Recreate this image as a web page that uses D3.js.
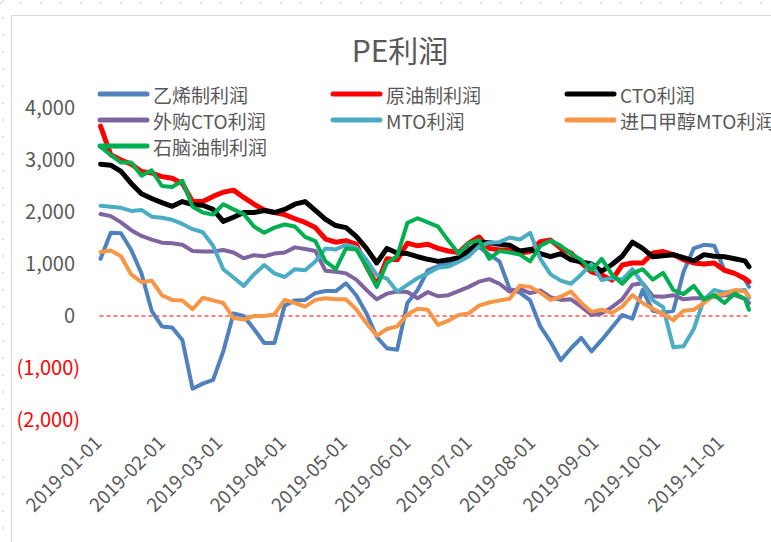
<!DOCTYPE html>
<html>
<head>
<meta charset="utf-8">
<script src="https://cdn.jsdelivr.net/npm/d3@7"></script>
<style>
  html, body { margin: 0; padding: 0; background: #fff; }
  text { font-family: "Noto Sans CJK SC", "Noto Sans", sans-serif; }
</style>
</head>
<body>
<div id="viz"></div>
<script>
// fechas (cada 5 días aprox.)
const dates = [
  '2019-01-02','2019-01-07','2019-01-12','2019-01-17','2019-01-22','2019-01-27','2019-02-01','2019-02-06','2019-02-11','2019-02-16',
  '2019-02-21','2019-02-26','2019-03-03','2019-03-08','2019-03-13','2019-03-18','2019-03-23','2019-03-28','2019-04-02','2019-04-07',
  '2019-04-12','2019-04-17','2019-04-22','2019-04-27','2019-05-02','2019-05-07','2019-05-12','2019-05-17','2019-05-22','2019-05-27',
  '2019-06-01','2019-06-06','2019-06-11','2019-06-16','2019-06-21','2019-06-26','2019-07-01','2019-07-06','2019-07-11','2019-07-16',
  '2019-07-21','2019-07-26','2019-07-31','2019-08-05','2019-08-10','2019-08-15','2019-08-20','2019-08-25','2019-08-30','2019-09-04',
  '2019-09-09','2019-09-14','2019-09-19','2019-09-24','2019-09-29','2019-10-04','2019-10-09','2019-10-14','2019-10-19','2019-10-24',
  '2019-10-29','2019-11-03','2019-11-08','2019-11-13','2019-11-15'
];

// 乙烯制利润
const ethylene = [
  1100,1600,1590,1270,820,100,-200,-220,-460,-1400,
  -1300,-1230,-680,50,0,-250,-520,-520,200,300,
  310,440,480,480,630,400,50,-400,-620,-650,
  250,500,880,960,1020,1100,1300,1330,1180,1050,
  520,450,300,-200,-500,-850,-620,-420,-680,-460,
  -220,20,-50,500,100,60,100,850,1300,1370,
  1350,880,820,700,560
];
// 原油制利润
const crude = [
  3650,3100,3000,2920,2780,2750,2680,2650,2550,2200,
  2200,2300,2380,2420,2280,2150,2040,1990,1950,1870,
  1800,1700,1480,1420,1450,1380,950,600,1100,1080,
  1400,1350,1380,1300,1250,1220,1400,1520,1300,1270,
  1270,1210,1240,1430,1460,1300,1210,1020,850,790,
  690,980,1020,1020,1210,1240,1180,1080,1020,1000,
  1020,880,820,720,660
];
// CTO利润
const cto = [
  2920,2900,2780,2550,2350,2260,2180,2110,2200,2140,
  2130,2050,1820,1900,1990,1990,2030,1990,2050,2150,
  2200,2030,1860,1740,1700,1530,1300,1020,1300,1210,
  1200,1140,1090,1050,1080,1120,1250,1420,1410,1380,
  1360,1250,1280,1200,1140,1200,1080,1040,1000,860,
  990,1150,1420,1300,1140,1160,1180,1120,1060,1180,
  1150,1140,1100,1060,950
];
// 外购CTO利润
const ctoPurchased = [
  1960,1920,1800,1650,1540,1470,1410,1400,1370,1250,
  1240,1240,1270,1220,1110,1170,1150,1200,1220,1320,
  1290,1250,870,850,820,700,500,320,430,470,
  460,340,460,380,400,480,560,660,710,620,
  470,520,440,490,360,310,320,180,20,50,
  170,320,600,630,380,370,400,320,340,340,
  370,400,400,330,250
];
// MTO利润
const mto = [
  2120,2100,2080,2020,2040,1910,1890,1850,1770,1670,
  1610,1350,900,740,580,800,980,820,750,900,
  880,1050,1300,1280,1370,1320,1080,790,720,470,
  600,730,820,930,950,1040,1150,1340,1410,1420,
  1510,1470,1600,1100,800,680,620,800,1000,690,
  730,700,900,620,300,170,-600,-580,-250,320,
  500,450,480,500,350
];
// 进口甲醇MTO利润
const mtoImport = [
  1230,1260,1150,800,650,680,400,310,300,130,
  350,300,250,-40,-70,0,0,30,310,250,
  180,310,340,320,320,130,-140,-380,-250,-200,
  30,140,120,-170,-90,20,50,200,260,300,
  330,580,560,450,310,370,470,250,80,120,
  60,180,400,250,140,40,-80,100,120,250,
  400,420,500,470,380
];
// 石脑油制利润
const naphtha = [
  3250,3100,2950,2950,2700,2800,2500,2480,2600,2100,
  1990,1950,2150,2050,1960,1720,1600,1700,1760,1720,
  1520,1440,1050,900,1300,1280,950,560,1020,1150,
  1790,1880,1800,1720,1450,1200,1400,1460,1100,1250,
  1220,1180,1050,1350,1450,1350,1200,1080,880,1100,
  800,620,820,900,700,830,500,420,580,320,
  400,250,430,330,120
];

const seriesNames = ['乙烯制利润','原油制利润','CTO利润','外购CTO利润','MTO利润','进口甲醇MTO利润','石脑油制利润'];
const seriesValues = [ethylene, crude, cto, ctoPurchased, mto, mtoImport, naphtha];
const seriesColors = ['#4F81BD','#FF0000','#000000','#8064A2','#4BACC6','#F79646','#00B050'];
const seriesWidths = [4, 5, 5, 4, 4, 4, 4];

const yTicks = [-2000, -1000, 0, 1000, 2000, 3000, 4000];
const xTicks = ['2019-01-01','2019-02-01','2019-03-01','2019-04-01','2019-05-01','2019-06-01',
                '2019-07-01','2019-08-01','2019-09-01','2019-10-01','2019-11-01'];

const W = 771, H = 542;
const parse = d3.timeParse('%Y-%m-%d');
const dateObjs = dates.map(parse);

const svg = d3.select('#viz').append('svg')
  .attr('width', W).attr('height', H);

// cuadrícula punteada de la hoja
svg.append('line').attr('x1', 3).attr('y1', 0).attr('x2', 3).attr('y2', H)
  .attr('stroke', '#c8c8c8').attr('stroke-dasharray', '2,15');
svg.append('line').attr('x1', 0).attr('y1', 3).attr('x2', W).attr('y2', 3)
  .attr('stroke', '#c8c8c8').attr('stroke-dasharray', '2,18');

// borde del gráfico
svg.append('rect')
  .attr('x', 11.5).attr('y', 15.5).attr('width', W).attr('height', H)
  .attr('fill', 'none').attr('stroke', '#d9d9d9');

const x = d3.scaleTime()
  .domain([parse('2019-01-01'), parse('2019-11-15')])
  .range([98.5, 749]);
const y = d3.scaleLinear().domain([-2000, 4000]).range([420, 108]);

// título
svg.append('text')
  .attr('x', 400).attr('y', 62)
  .attr('text-anchor', 'middle')
  .attr('font-size', 30).attr('fill', '#595959')
  .text('PE利润');

// eje Y
const fmt = v => v < 0 ? '(' + d3.format(',')(-v) + ')' : d3.format(',')(v);
const yAxis = svg.append('g')
  .attr('transform', 'translate(80,0)')
  .call(d3.axisLeft(y).tickValues(yTicks).tickSize(0).tickPadding(0).tickFormat(fmt));
yAxis.select('.domain').remove();
yAxis.selectAll('text')
  .attr('font-size', 20)
  .attr('font-family', '"Noto Sans CJK SC", "Noto Sans", sans-serif')
  .attr('fill', d => d < 0 ? '#FF0000' : '#595959')
  .attr('dx', d => d < 0 ? 0 : -5);

// eje X (fechas rotadas)
const xAxis = svg.append('g')
  .attr('transform', 'translate(0,444)')
  .call(d3.axisBottom(x).tickValues(xTicks.map(parse)).tickSize(0)
    .tickFormat(d3.timeFormat('%Y-%m-%d')));
xAxis.select('.domain').remove();
xAxis.selectAll('text')
  .attr('y', 0).attr('dy', 0)
  .attr('font-size', 19)
  .attr('font-family', '"Noto Sans CJK SC", "Noto Sans", sans-serif')
  .attr('fill', '#595959')
  .attr('text-anchor', 'end')
  .attr('transform', 'translate(4,0) rotate(-45)');

// línea de cero
svg.append('line')
  .attr('x1', x.range()[0] + 1).attr('x2', x.range()[1])
  .attr('y1', y(0)).attr('y2', y(0))
  .attr('stroke', '#FF0000').attr('stroke-width', 1.2)
  .attr('stroke-dasharray', '4,3');

// series
const line = d3.line()
  .x((d, i) => x(dateObjs[i]))
  .y(d => y(d));

seriesValues.forEach((vals, k) => {
  svg.append('path')
    .datum(vals)
    .attr('d', line)
    .attr('fill', 'none')
    .attr('stroke', seriesColors[k])
    .attr('stroke-width', seriesWidths[k])
    .attr('stroke-linejoin', 'round')
    .attr('stroke-linecap', 'round');
});

// leyenda
const legCols = [100, 333, 567];
const legRows = [94, 120, 146];
const legend = svg.append('g');
seriesNames.forEach((name, k) => {
  const lx = legCols[k % 3], ly = legRows[Math.floor(k / 3)];
  legend.append('line')
    .attr('x1', lx).attr('x2', lx + 47)
    .attr('y1', ly).attr('y2', ly)
    .attr('stroke', seriesColors[k]).attr('stroke-width', 5)
    .attr('stroke-linecap', 'round');
  legend.append('text')
    .attr('x', lx + 53).attr('y', ly)
    .attr('dominant-baseline', 'central')
    .attr('font-size', 19).attr('fill', '#595959')
    .text(name);
});
</script>
</body>
</html>
